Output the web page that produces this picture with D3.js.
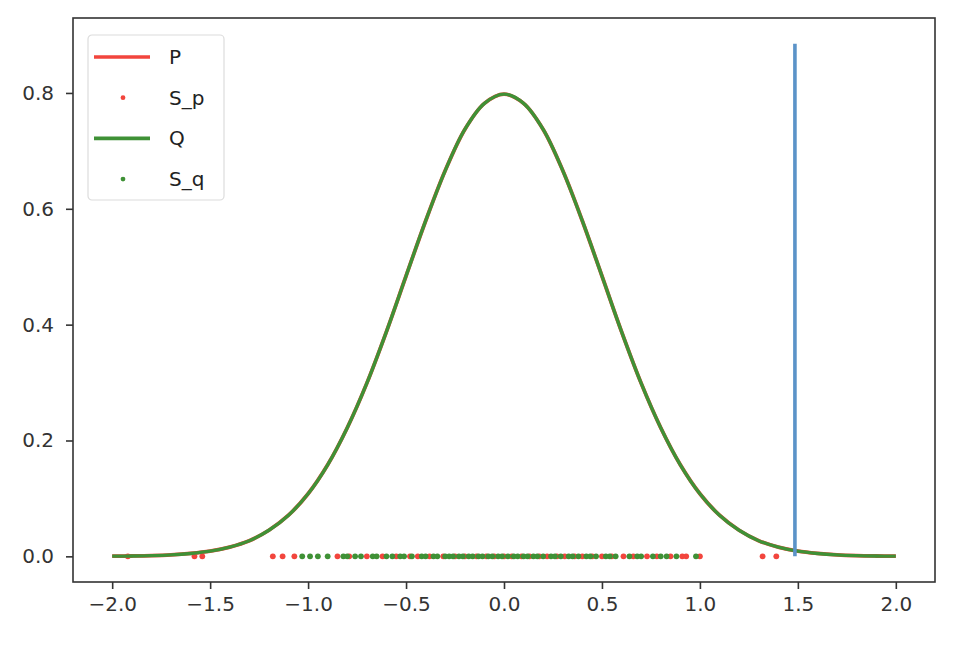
<!DOCTYPE html>
<html>
<head>
<meta charset="utf-8">
<script src="https://cdn.jsdelivr.net/npm/d3@7"></script>
<style>
  body { margin: 0; background: #fff; }
  text { font-family: "DejaVu Sans", sans-serif; }
</style>
</head>
<body>
<script>
// density curve (P and Q overlap)
var curveX = [-2.0,-1.9,-1.8,-1.7,-1.6,-1.5,-1.4,-1.3,-1.2,-1.1,-1.0,-0.9,-0.8,-0.7,-0.6,-0.5,-0.4,-0.3,-0.2,-0.1,
              0.0,0.1,0.2,0.3,0.4,0.5,0.6,0.7,0.8,0.9,1.0,1.1,1.2,1.3,1.4,1.5,1.6,1.7,1.8,1.9,2.0];
var curveP = [0.0003,0.0006,0.0012,0.0025,0.005,0.009,0.016,0.027,0.045,0.071,0.108,0.158,0.222,0.299,0.388,0.484,0.579,0.666,0.737,0.782,
              0.798,0.782,0.737,0.666,0.579,0.484,0.388,0.299,0.222,0.158,0.108,0.071,0.045,0.027,0.016,0.009,0.005,0.0025,0.0012,0.0006,0.0003];
var curveQ = curveP.slice();

// samples along y = 0
var samplesP = [-1.92,-1.58,-1.54,-1.18,-1.13,-1.07,-0.85,-0.79,-0.70,-0.62,-0.55,-0.48,-0.44,-0.38,-0.31,-0.25,-0.20,-0.14,
                -0.09,-0.05,0.00,0.04,0.09,0.13,0.18,0.22,0.27,0.31,0.36,0.40,0.45,0.50,0.55,0.61,0.66,0.73,0.78,0.85,0.91,0.93,1.00,1.32,1.39];
var samplesQ = [-1.03,-0.99,-0.95,-0.90,-0.82,-0.80,-0.76,-0.73,-0.67,-0.65,-0.60,-0.57,-0.53,-0.51,-0.47,-0.42,-0.40,-0.36,-0.34,
                -0.30,-0.28,-0.26,-0.23,-0.21,-0.18,-0.16,-0.13,-0.11,-0.08,-0.06,-0.03,-0.01,0.02,0.05,0.07,0.10,0.12,0.15,0.17,0.20,
                0.24,0.26,0.29,0.33,0.35,0.38,0.42,0.44,0.47,0.52,0.54,0.57,0.64,0.68,0.70,0.76,0.80,0.83,0.88,0.98];

// vertical marker
var markerX = 1.485;
var markerTop = 0.885;

var xTicks = [-2.0,-1.5,-1.0,-0.5,0.0,0.5,1.0,1.5,2.0];
var yTicks = [0.0,0.2,0.4,0.6,0.8];

var legendItems = [
  {label: "P", type: "line", color: "#f2453d"},
  {label: "S_p", type: "dot", color: "#f2453d"},
  {label: "Q", type: "line", color: "#3f9136"},
  {label: "S_q", type: "dot", color: "#3f9136"}
];

var width = 966, height = 654;
var margin = {top: 18, right: 31, bottom: 72, left: 73};

var svg = d3.select("body").append("svg")
    .attr("width", width)
    .attr("height", height);

var x = d3.scaleLinear().domain([-2.2, 2.2]).range([margin.left, width - margin.right]);
var y = d3.scaleLinear().domain([-0.0443, 0.9294]).range([height - margin.bottom, margin.top]);

// axes
var xAxis = svg.append("g")
    .attr("transform", "translate(0," + (height - margin.bottom) + ")")
    .call(d3.axisBottom(x).tickValues(xTicks).tickSize(7).tickPadding(8)
      .tickFormat(function(d) { return d3.format(".1f")(d).replace("-", "\u2212"); }));
var yAxis = svg.append("g")
    .attr("transform", "translate(" + margin.left + ",0)")
    .call(d3.axisLeft(y).tickValues(yTicks).tickSize(7).tickPadding(12).tickFormat(d3.format(".1f")));

[xAxis, yAxis].forEach(function(a) {
  a.select(".domain").remove();
  a.selectAll(".tick line").attr("stroke", "#333").attr("stroke-width", 1.6);
  a.selectAll(".tick text").attr("fill", "#333").attr("font-size", 20);
});

// frame
svg.append("rect")
    .attr("x", margin.left)
    .attr("y", margin.top)
    .attr("width", width - margin.left - margin.right)
    .attr("height", height - margin.top - margin.bottom)
    .attr("fill", "none")
    .attr("stroke", "#333")
    .attr("stroke-width", 1.6);

var line = d3.line()
    .x(function(d, i) { return x(curveX[i]); })
    .y(function(d) { return y(d); })
    .curve(d3.curveCatmullRom);

svg.append("path").datum(curveP)
    .attr("d", line)
    .attr("fill", "none")
    .attr("stroke", "#f2453d")
    .attr("stroke-width", 3.8);

svg.selectAll(".sp").data(samplesP).enter().append("circle")
    .attr("class", "sp")
    .attr("cx", function(d) { return x(d); })
    .attr("cy", y(0))
    .attr("r", 2.9)
    .attr("fill", "#f2453d");

svg.append("path").datum(curveQ)
    .attr("d", line)
    .attr("fill", "none")
    .attr("stroke", "#3f9136")
    .attr("stroke-width", 3.4);

svg.selectAll(".sq").data(samplesQ).enter().append("circle")
    .attr("class", "sq")
    .attr("cx", function(d) { return x(d); })
    .attr("cy", y(0))
    .attr("r", 2.9)
    .attr("fill", "#3f9136");

svg.append("line")
    .attr("x1", x(markerX)).attr("x2", x(markerX))
    .attr("y1", y(0)).attr("y2", y(markerTop))
    .attr("stroke", "#5b93c8")
    .attr("stroke-width", 3.6);

// legend
var legend = svg.append("g").attr("transform", "translate(88,35)");
legend.append("rect")
    .attr("width", 136).attr("height", 165)
    .attr("rx", 4)
    .attr("fill", "#fff")
    .attr("fill-opacity", 0.8)
    .attr("stroke", "#dcdcdc")
    .attr("stroke-width", 1.2);

var rows = legend.selectAll(".row").data(legendItems).enter().append("g")
    .attr("transform", function(d, i) { return "translate(0," + (22 + i * 40.7) + ")"; });

rows.filter(function(d) { return d.type === "line"; }).append("line")
    .attr("x1", 6).attr("x2", 62)
    .attr("stroke", function(d) { return d.color; })
    .attr("stroke-width", 3.6);
rows.filter(function(d) { return d.type === "dot"; }).append("circle")
    .attr("cx", 35).attr("r", 2.4)
    .attr("fill", function(d) { return d.color; });
rows.append("text")
    .attr("x", 81)
    .attr("dy", "0.35em")
    .attr("font-size", 20)
    .attr("fill", "#222")
    .text(function(d) { return d.label; });
</script>
</body>
</html>
